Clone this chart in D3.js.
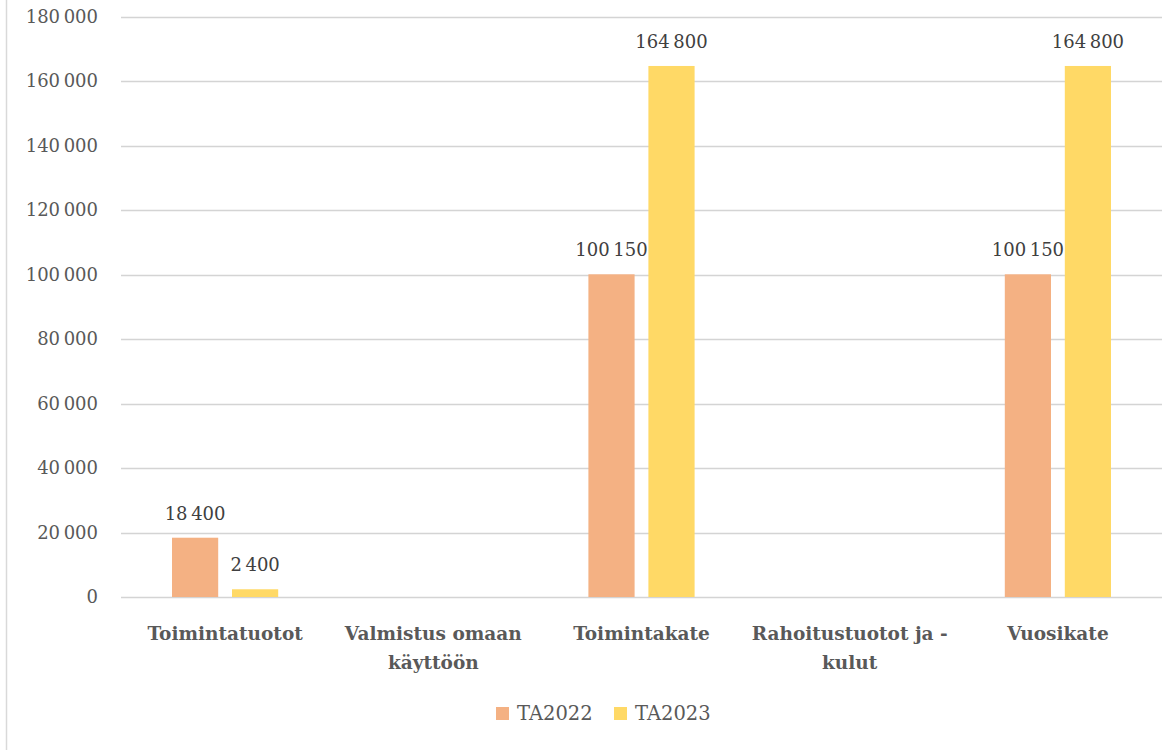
<!DOCTYPE html>
<html>
<head>
<meta charset="utf-8">
<script src="https://cdn.jsdelivr.net/npm/d3@7"></script>
<style>
  body { margin: 0; background: #fff; }
  text { font-family: "DejaVu Serif", serif; }
</style>
</head>
<body>
<svg id="chart" width="1176" height="750"></svg>
<script>
// chart data
const categories = [
  ["Toimintatuotot"],
  ["Valmistus omaan", "käyttöön"],
  ["Toimintakate"],
  ["Rahoitustuotot ja -", "kulut"],
  ["Vuosikate"]
];
const seriesNames = ["TA2022", "TA2023"];
const ta2022 = [18400, 0, 100150, 0, 100150];
const ta2023 = [2400, 0, 164800, 0, 164800];
const yTicks = [0, 20000, 40000, 60000, 80000, 100000, 120000, 140000, 160000, 180000];

const colors = ["#F4B183", "#FFD966"];

const svg = d3.select("#chart");
const margin = { left: 121, right: 14, top: 17, bottom: 153 };
const width = 1176, height = 750;

const fmt = v => d3.format(",")(v).replace(/,/g, "\u202F");

const x = d3.scaleBand()
  .domain(d3.range(categories.length))
  .range([margin.left, width - margin.right]);

const y = d3.scaleLinear()
  .domain([0, 180000])
  .range([height - margin.bottom, margin.top]);

// inner band for the two series
const inner = d3.scaleBand()
  .domain(seriesNames)
  .range([51, x.bandwidth() - 51])
  .paddingInner(0.23);

// outer border on the left
svg.append("line")
  .attr("x1", 6.5).attr("x2", 6.5)
  .attr("y1", 0).attr("y2", height)
  .attr("stroke", "#d9d9d9").attr("stroke-width", 1.5);

// gridlines
svg.append("g")
  .selectAll("line")
  .data(yTicks)
  .join("line")
  .attr("x1", margin.left)
  .attr("x2", width - margin.right)
  .attr("y1", d => Math.round(y(d)) + 0.5)
  .attr("y2", d => Math.round(y(d)) + 0.5)
  .attr("stroke", "#d4d4d4")
  .attr("stroke-width", 1.5);

// y tick labels
svg.append("g")
  .selectAll("text")
  .data(yTicks)
  .join("text")
  .attr("x", 98)
  .attr("y", d => y(d) + 6)
  .attr("text-anchor", "end")
  .attr("font-size", 18)
  .attr("fill", "#595959")
  .text(d => fmt(d));

const series = [ta2022, ta2023];

series.forEach((vals, s) => {
  const g = svg.append("g");
  g.selectAll("rect")
    .data(vals)
    .join("rect")
    .attr("x", (d, i) => x(i) + inner(seriesNames[s]))
    .attr("width", inner.bandwidth())
    .attr("y", d => y(d))
    .attr("height", d => y(0) - y(d))
    .attr("fill", colors[s]);

  g.selectAll("text")
    .data(vals.map((v, i) => ({ v, i })).filter(d => d.v > 0))
    .join("text")
    .attr("x", d => x(d.i) + inner(seriesNames[s]) + inner.bandwidth() / 2)
    .attr("y", d => y(d.v) - 18)
    .attr("text-anchor", "middle")
    .attr("font-size", 18)
    .attr("fill", "#404040")
    .text(d => fmt(d.v));
});

// category labels
const catG = svg.append("g");
categories.forEach((lines, i) => {
  const t = catG.append("text")
    .attr("text-anchor", "middle")
    .attr("font-size", 18.5)
    .attr("font-weight", "bold")
    .attr("fill", "#595959");
  lines.forEach((ln, j) => {
    t.append("tspan")
      .attr("x", x(i) + x.bandwidth() / 2)
      .attr("y", 640 + j * 29)
      .text(ln);
  });
});

// legend
const legend = svg.append("g");
const legendX = [496, 614];
seriesNames.forEach((name, s) => {
  legend.append("rect")
    .attr("x", legendX[s]).attr("y", 707)
    .attr("width", 13).attr("height", 13)
    .attr("fill", colors[s]);
  legend.append("text")
    .attr("x", legendX[s] + 21)
    .attr("y", 720)
    .attr("font-size", 19.5)
    .attr("fill", "#595959")
    .text(name);
});
</script>
</body>
</html>
